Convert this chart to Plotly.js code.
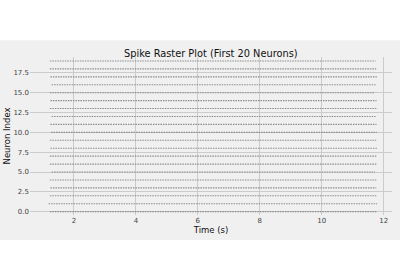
<!DOCTYPE html>
<html>
<head>
<script src="https://cdn.plot.ly/plotly-3.0.1.min.js"></script>
<style>html,body{margin:0;padding:0;background:#fff;}#chart{width:400px;height:280px;}</style>
</head>
<body>
<div id="chart"></div>
<script>
// Neuron indices and the time span of each neuron's spike train (s)
const neurons    = [0,1,2,3,4,5,6,7,8,9,10,11,12,13,14,15,16,17,18,19];
const firstSpike = [1.22,1.18,1.22,1.24,1.22,1.28,1.22,1.22,1.24,1.22,1.26,1.24,1.28,1.22,1.24,1.22,1.28,1.24,1.22,1.22];
const lastSpike  = [11.78,11.79,11.77,11.76,11.77,11.72,11.78,11.77,11.78,11.76,11.78,11.77,11.74,11.80,11.77,11.72,11.74,11.78,11.76,11.74];
const xTicks = [2,4,6,8,10,12];
const yTicks = [0,2.5,5,7.5,10,12.5,15,17.5];

const traces = neurons.map((n,i)=>({
  type:'scatter', mode:'lines',
  x:[firstSpike[i], lastSpike[i]], y:[n,n],
  line:{color:'#8c8c8c', width:1.1, dash:'1.5px,1px'},
  hoverinfo:'skip', showlegend:false
}));

const layout = {
  width:400, height:280,
  paper_bgcolor:'#f0f0f0', plot_bgcolor:'#f0f0f0',
  margin:{l:30, r:8, t:57, b:65},
  showlegend:false,
  title:{text:'Spike Raster Plot (First 20 Neurons)', x:0.527, xanchor:'center', y:0.81, yanchor:'middle',
         font:{family:'DejaVu Sans', size:9.8, color:'#111'}},
  xaxis:{range:[0.58,12.27], tickvals:xTicks, ticktext:xTicks.map(String), automargin:false,
         showgrid:true, gridcolor:'#cbcbcb', gridwidth:1, zeroline:false, showline:false, ticks:'',
         tickfont:{family:'DejaVu Sans', size:7, color:'#444'}, ticklabelstandoff:0,
         title:{text:'Time (s)', font:{family:'DejaVu Sans', size:8.5, color:'#111'}, standoff:2}},
  yaxis:{range:[-0.42,19.5], tickvals:yTicks, ticktext:yTicks.map(v=>v.toFixed(1)), automargin:false,
         showgrid:true, gridcolor:'#cbcbcb', gridwidth:1, zeroline:false, showline:false, ticks:'',
         tickfont:{family:'DejaVu Sans', size:7, color:'#444'}, ticklabelstandoff:0,
         title:{text:'Neuron Index', font:{family:'DejaVu Sans', size:8.5, color:'#111'}, standoff:1}},
  shapes:[
    {type:'rect', xref:'paper', yref:'paper', x0:-0.2, x1:1.2, y0:1.1055, y1:1.5, fillcolor:'#ffffff', line:{width:0}, layer:'above'},
    {type:'rect', xref:'paper', yref:'paper', x0:-0.2, x1:1.2, y0:-0.158, y1:-0.6, fillcolor:'#ffffff', line:{width:0}, layer:'above'}
  ]
};
Plotly.newPlot('chart', traces, layout, {displayModeBar:false, staticPlot:true});
</script>
</body>
</html>
